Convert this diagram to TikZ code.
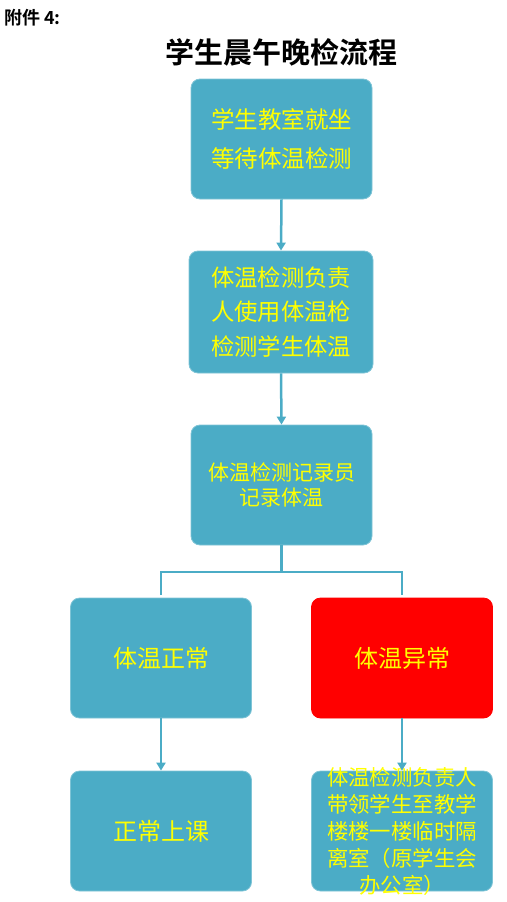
\documentclass[tikz,border=0pt]{standalone}
\usepackage{fontspec}
\newfontfamily\cjk{Noto Sans CJK SC}
\newfontfamily\cjkb{Noto Sans CJK SC Bold}
\usetikzlibrary{arrows.meta}
\definecolor{teal}{HTML}{4BACC6}
\definecolor{tealedge}{HTML}{7FC4D6}
\definecolor{txt}{HTML}{FFFF00}
\tikzset{
  box/.style={draw=tealedge,line width=0.8pt,fill=teal,rounded corners=9pt,minimum width=181pt,minimum height=120pt,inner sep=0pt},
  redbox/.style={box,draw=red,fill=red},
  lbl/.style={text=txt,align=center,inner sep=0pt},
  conn/.style={draw=teal,line width=2.5pt},
  arr/.style={conn,-{Triangle[width=9pt,length=8pt]}}
}
\begin{document}
\begin{tikzpicture}[x=1pt,y=-1pt]
\useasboundingbox (0,0) rectangle (506,902);
\node[anchor=west,inner sep=0pt,font={\cjkb\fontsize{18}{18}\selectfont}] (att) at (4,18) {附件 4:};
\node[inner sep=0pt,font={\cjkb\fontsize{29}{29}\selectfont}] (title) at (281,52) {学生晨午晚检流程};

\node[box] (b1) at (281.5,139) {};
\node[lbl,font={\cjk\fontsize{23.5}{39}\selectfont}] (t1) at (b1.center) {学生教室就坐\\等待体温检测};

\node[box,minimum width=184pt,minimum height=122pt] (b2) at (281,312) {};
\node[lbl,font={\cjk\fontsize{23.3}{34.5}\selectfont}] (t2) at (b2.center) {体温检测负责\\人使用体温枪\\检测学生体温};

\node[box] (b3) at (281.5,485) {};
\node[lbl,font={\cjk\fontsize{21}{25}\selectfont}] (t3) at (b3.center) {体温检测记录员\\记录体温};

\node[box] (b4) at (161,658) {};
\node[lbl,font={\cjk\fontsize{24}{24}\selectfont}] (t4) at (b4.center) {体温正常};

\node[redbox] (b5) at (402,658) {};
\node[lbl,font={\cjk\fontsize{24}{24}\selectfont}] (t5) at (b5.center) {体温异常};

\node[box] (b6) at (161,831) {};
\node[lbl,font={\cjk\fontsize{24}{24}\selectfont}] (t6) at (b6.center) {正常上课};

\node[box] (b7) at (402,831) {};
\node[lbl,font={\cjk\fontsize{21.4}{27}\selectfont}] (t7) at (b7.center) {体温检测负责人\\带领学生至教学\\楼楼一楼临时隔\\离室（原学生会\\办公室）};

\draw[arr] (b1.south) -- (b2.north);
\draw[arr] (b2.south) -- (b3.north);
\coordinate (j) at (281.5,572);
\coordinate (jl) at (161,572);
\coordinate (jr) at (402,572);
\coordinate (el) at (161,595);
\coordinate (er) at (402,595);
\draw[conn] (b3.south) -- (j);
\draw[conn] (el) -- (jl) -- (jr) -- (er);
\draw[arr] (b4.south) -- (b6.north);
\draw[arr] (b5.south) -- (b7.north);
\end{tikzpicture}
\end{document}
